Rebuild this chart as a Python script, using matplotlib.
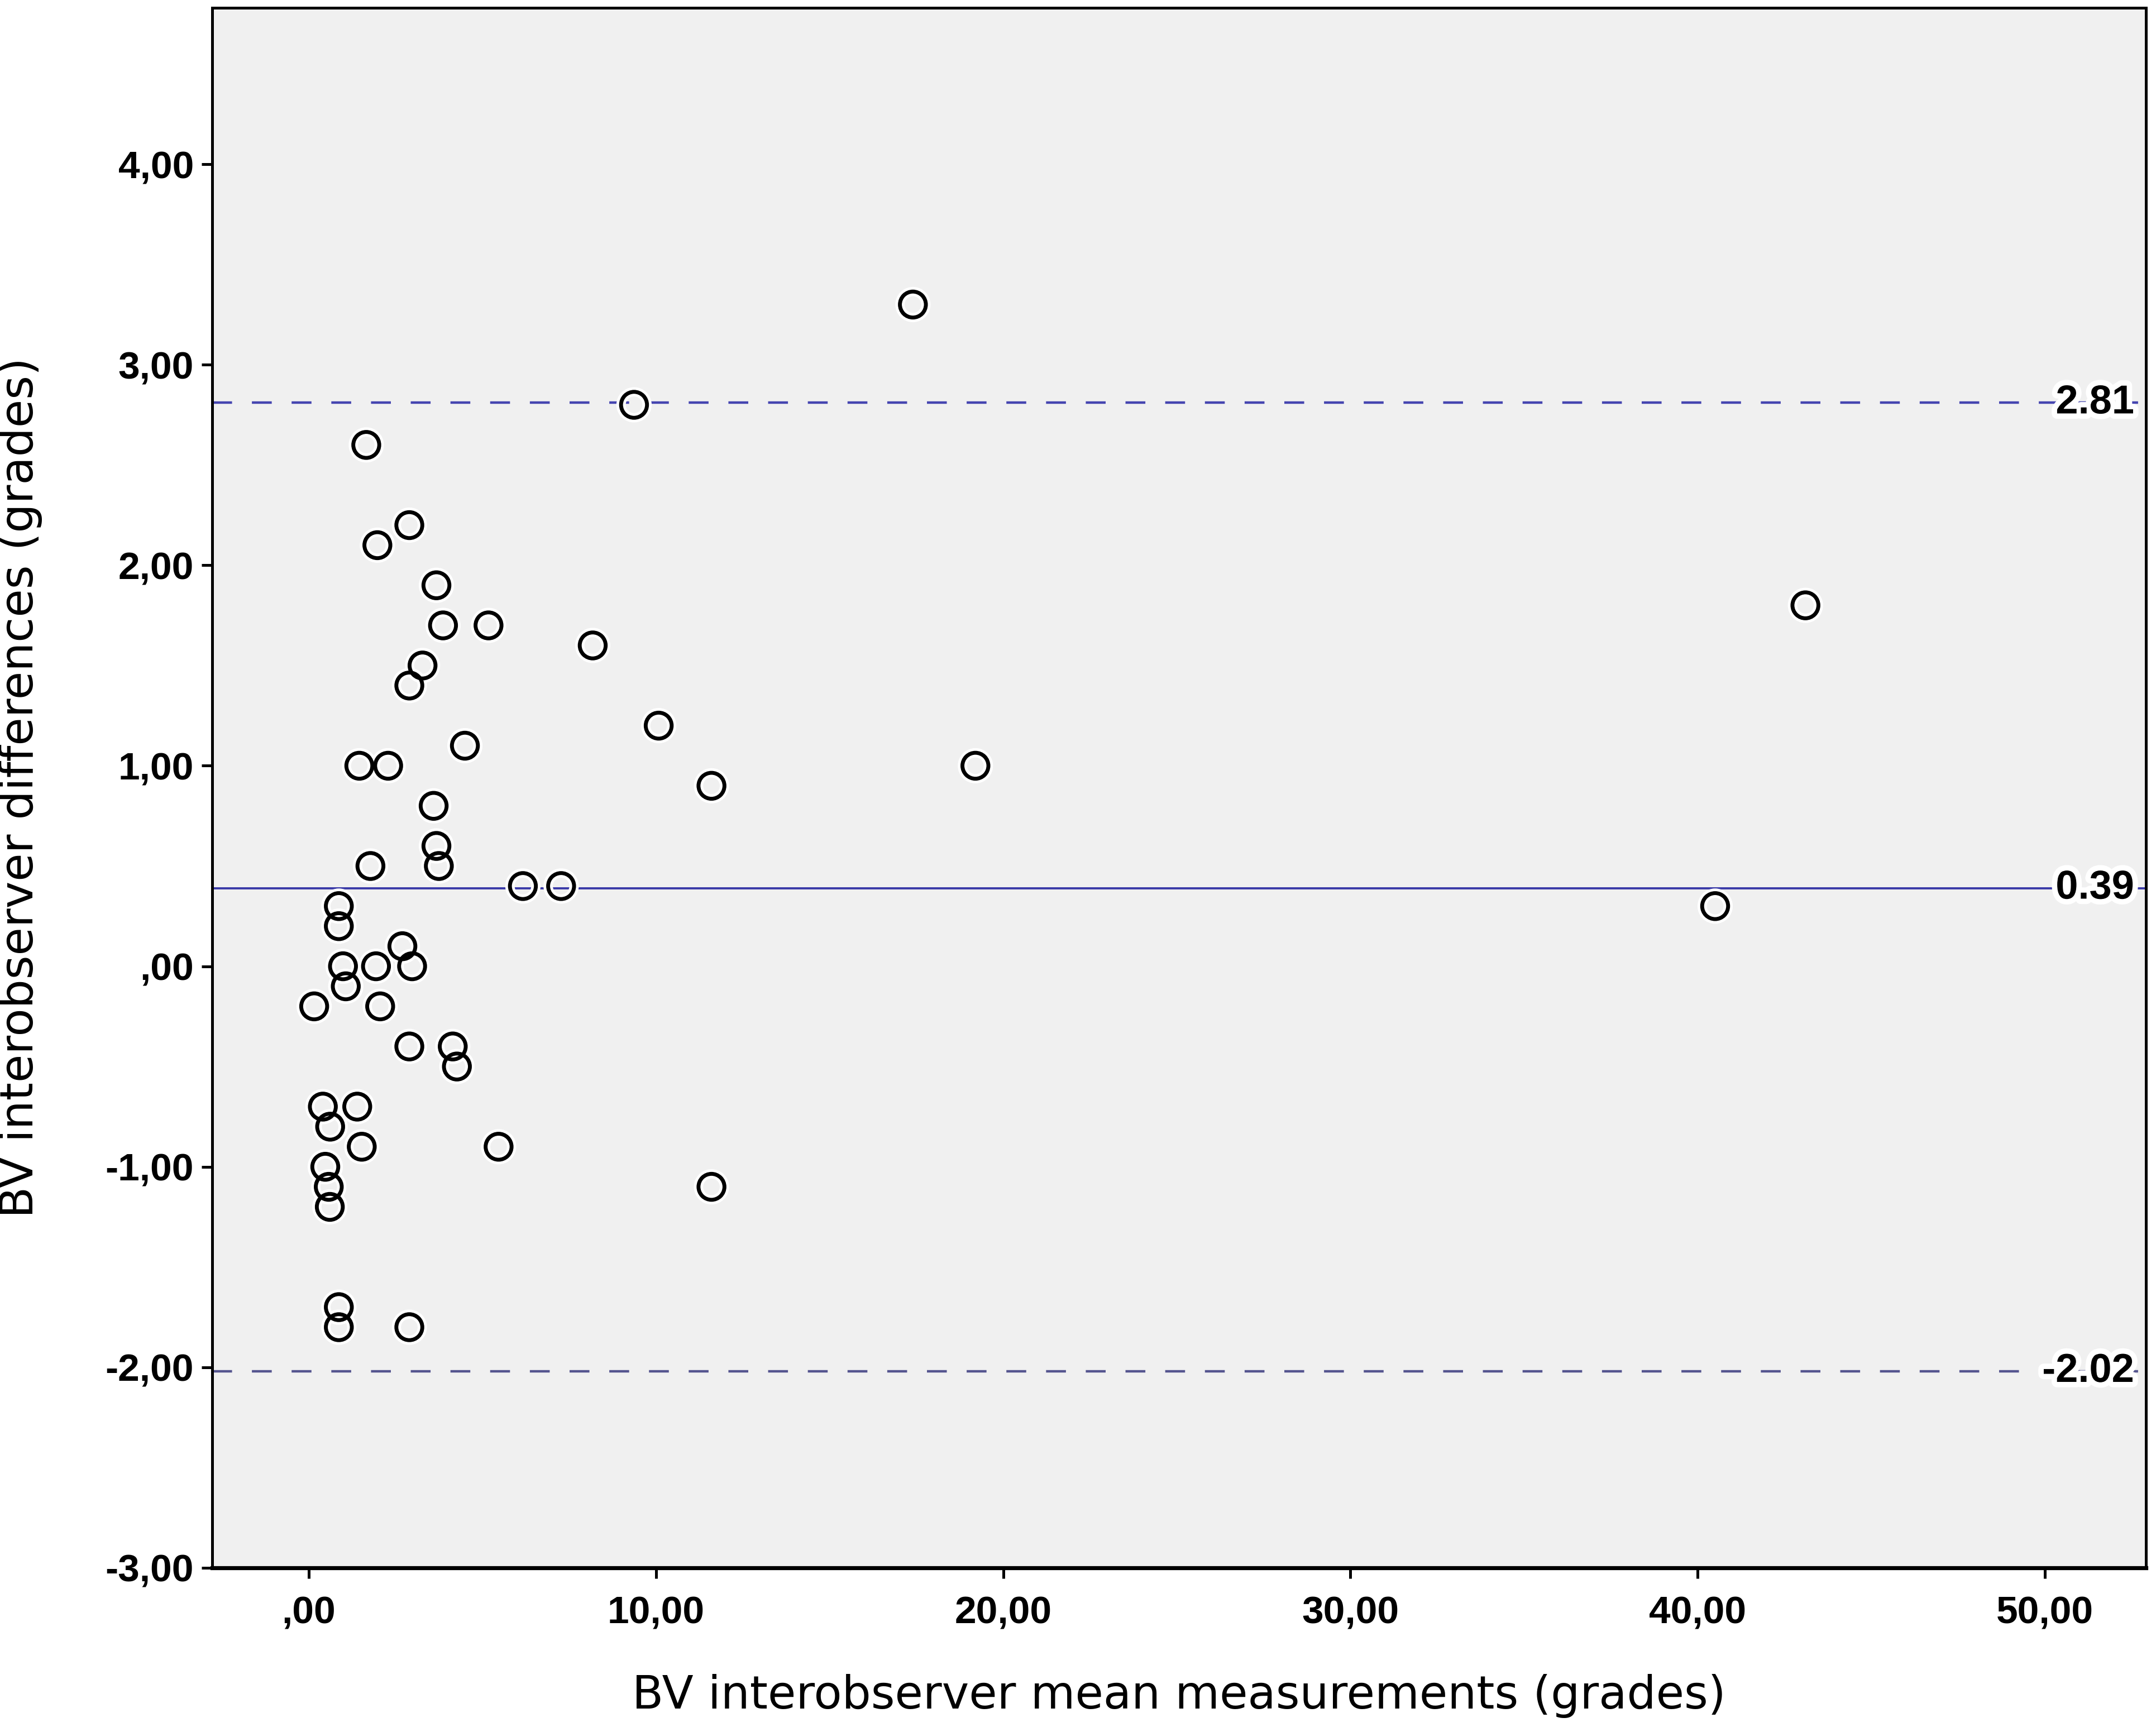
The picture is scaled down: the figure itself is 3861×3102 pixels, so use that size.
import numpy as np
import matplotlib
matplotlib.use('Agg')
import matplotlib.pyplot as plt
import matplotlib.patheffects as pe

# mean of the two observers (grades)
mean_meas = [17.4, 9.37, 1.66, 2.9, 1.98, 3.68, 3.87, 5.18, 8.18, 3.28,
             2.9, 43.1, 10.08, 4.5, 1.46, 2.29, 19.2, 11.6, 3.6, 3.68,
             3.75, 1.78, 6.17, 7.27, 40.5, 0.87, 0.87, 2.7, 0.99, 1.94,
             2.98, 1.07, 0.16, 2.06, 2.9, 4.15, 4.27, 0.41, 1.4, 0.62,
             1.53, 5.47, 0.48, 0.58, 0.61, 11.6, 0.87, 0.87, 2.9]
# difference between the two observers (grades)
diff_meas = [3.3, 2.8, 2.6, 2.2, 2.1, 1.9, 1.7, 1.7, 1.6, 1.5,
             1.4, 1.8, 1.2, 1.1, 1.0, 1.0, 1.0, 0.9, 0.8, 0.6,
             0.5, 0.5, 0.4, 0.4, 0.3, 0.3, 0.2, 0.1, 0.0, 0.0,
             0.0, -0.1, -0.2, -0.2, -0.4, -0.4, -0.5, -0.7, -0.7, -0.8,
             -0.9, -0.9, -1.0, -1.1, -1.2, -1.1, -1.7, -1.8, -1.8]

mean_diff = 0.39
upper_loa = 2.81
lower_loa = -2.02

y_ticks = [4, 3, 2, 1, 0, -1, -2, -3]
y_labels = ['4,00', '3,00', '2,00', '1,00', ',00', '-1,00', '-2,00', '-3,00']
x_ticks = [0, 10, 20, 30, 40, 50]
x_labels = [',00', '10,00', '20,00', '30,00', '40,00', '50,00']

fig = plt.figure(figsize=(19.31, 15.51), dpi=200)
ax = fig.add_axes([0.0985, 0.0948, 0.8965, 0.9007])
ax.set_facecolor('#f0f0f0')

halo = [pe.withStroke(linewidth=7, foreground='white')]

ax.axhline(mean_diff, color='#3a3aa8', lw=1.4, zorder=2)
ax.axhline(upper_loa, color='#4545b0', lw=1.6, ls=(0, (8, 8)), zorder=2)
ax.axhline(lower_loa, color='#55558f', lw=1.6, ls=(0, (8, 8)), zorder=2)

ax.scatter(mean_meas, diff_meas, s=280, facecolors='none', edgecolors='black',
           linewidths=2.5, zorder=3,
           path_effects=[pe.Stroke(linewidth=6, foreground='white'), pe.Normal()])

for val in [upper_loa, mean_diff, lower_loa]:
    ax.text(0.994, val, '%.2f' % val, transform=ax.get_yaxis_transform(),
            ha='right', va='center', fontsize=26, fontweight='bold',
            family='Liberation Sans', path_effects=halo, zorder=4)

ax.set_xlim(-2.77, 52.9)
ax.set_ylim(-3, 4.78)
ax.set_yticks(y_ticks)
ax.set_yticklabels(y_labels)
ax.set_xticks(x_ticks)
ax.set_xticklabels(x_labels)

for lab in ax.get_xticklabels() + ax.get_yticklabels():
    lab.set_fontfamily('Liberation Sans')
    lab.set_fontweight('bold')
    lab.set_fontsize(25)

ax.tick_params(direction='out', length=7, width=1.8, color='black')
ax.tick_params(axis='x', pad=11)
ax.tick_params(axis='y', pad=5)
for s in ax.spines.values():
    s.set_color('black')
    s.set_linewidth(1.8)
ax.spines['bottom'].set_linewidth(2.6)

ax.set_xlabel('BV interobserver mean measurements (grades)', fontsize=29.5,
              family='DejaVu Sans', va='center')
ax.set_ylabel('BV interobserver differences (grades)', fontsize=29.5,
              family='DejaVu Sans', va='center')
ax.xaxis.set_label_coords(0.5, -0.082)
ax.yaxis.set_label_coords(-0.0994, 0.5)

fig.savefig('out.png', dpi=200, facecolor='white')
